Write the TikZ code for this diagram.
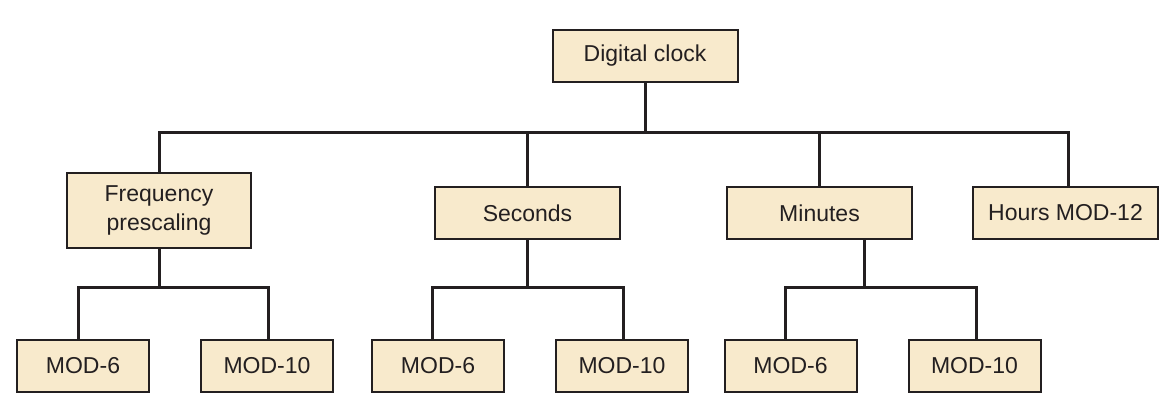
\documentclass[tikz,border=0pt]{standalone}
\usepackage{fontspec}
\setmainfont{Liberation Sans}
\definecolor{boxfill}{RGB}{248,234,204}
\definecolor{ink}{RGB}{35,31,32}
\begin{document}
\begin{tikzpicture}[x=1pt,y=-1pt,
  box/.style={draw=ink,line width=2pt,fill=boxfill,inner sep=0pt,
    minimum width=185pt,minimum height=52pt,align=center,
    font=\fontsize{23}{29}\selectfont,text=ink},
  small/.style={box,minimum width=132pt},
  conn/.style={draw=ink,line width=3pt}]
\useasboundingbox (0,0) rectangle (1172,409);
% top
\node[box] (root) at (645,56) {Digital clock};
% level 2
\node[box,minimum width=184pt,minimum height=75pt] (freq) at (159,210.5) {Frequency\\prescaling};
\node[box] (sec) at (527.5,213) {Seconds};
\node[box] (min) at (819.5,213) {Minutes};
\node[box] (hours) at (1065.5,213) {Hours MOD-12};
% level 3
\node[small] (f6) at (83,366) {MOD-6};
\node[small] (f10) at (267,366) {MOD-10};
\node[small] (s6) at (438,366) {MOD-6};
\node[small] (s10) at (622,366) {MOD-10};
\node[small] (m6) at (790.5,366) {MOD-6};
\node[small] (m10) at (974.5,366) {MOD-10};
% buses
\coordinate (bus1) at (645,133);
\coordinate (bus2) at (0,287.5);
\draw[conn] (root.south) -- (bus1);
\draw[conn] (freq.north) -- (freq.north |- bus1) -- ([xshift=2.5pt]hours.north |- bus1) -- ([xshift=2.5pt]hours.north);
\draw[conn] (sec.north |- bus1) -- (sec.north);
\draw[conn] (min.north |- bus1) -- (min.north);
% frequency group
\draw[conn] (freq.south) -- (freq.south |- bus2);
\draw[conn] ([xshift=-5pt]f6.north) -- ([xshift=-5pt]f6.north |- bus2) -- ([xshift=1pt]f10.north |- bus2) -- ([xshift=1pt]f10.north);
% seconds group
\draw[conn] (sec.south) -- (sec.south |- bus2);
\draw[conn] ([xshift=-6pt]s6.north) -- ([xshift=-6pt]s6.north |- bus2) -- ([xshift=1pt]s10.north |- bus2) -- ([xshift=1pt]s10.north);
% minutes group
\draw[conn] ([xshift=44.5pt]min.south) -- ([xshift=44.5pt]min.south |- bus2);
\draw[conn] ([xshift=-5.5pt]m6.north) -- ([xshift=-5.5pt]m6.north |- bus2) -- ([xshift=1.5pt]m10.north |- bus2) -- ([xshift=1.5pt]m10.north);
\end{tikzpicture}
\end{document}
